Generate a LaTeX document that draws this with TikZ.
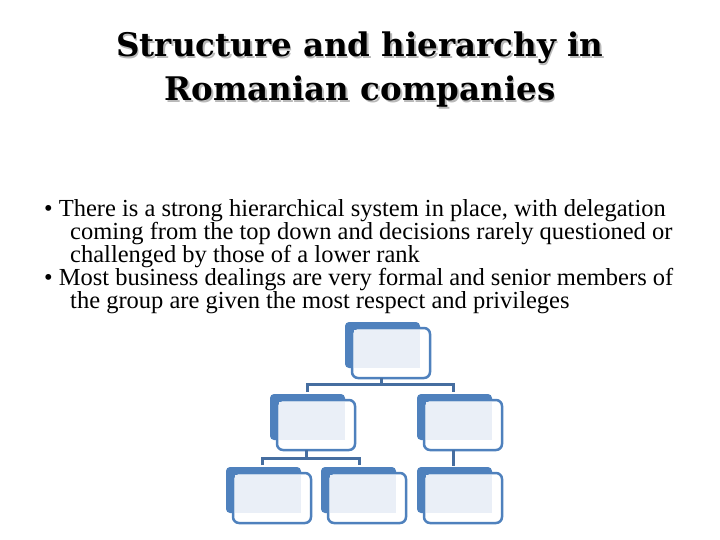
\documentclass[tikz,border=0pt]{standalone}
\usepackage{fontspec}
\setmainfont{Liberation Serif}
\newfontfamily\titlefont{DejaVu Serif}
\definecolor{bk}{RGB}{79,129,189}
\definecolor{ln}{RGB}{70,110,160}
\definecolor{inner}{RGB}{234,239,247}
\begin{document}
\begin{tikzpicture}[x=1pt,y=-1pt,
  back/.style={fill=bk,rounded corners=4pt},
  front/.style={draw=bk,line width=2.5pt,fill=white,rounded corners=6pt},
  conn/.style={draw=ln,line width=3pt},
  title/.style={font=\titlefont\fontsize{32.5}{44}\selectfont\bfseries,align=center},
  body/.style={font=\fontsize{24.5}{23}\selectfont,anchor=north west,inner sep=0}]
\useasboundingbox (0,0) rectangle (720,540);
\node[title,text=gray!55] (ts) at (361.5,72) {Structure and hierarchy in\\Romanian companies};
\node[title,text=black] (t) at (360,70) {Structure and hierarchy in\\Romanian companies};
\node[body] (l1) at (44,199) {\textbullet\ There is a strong hierarchical system in place, with delegation};
\node[body] (l2) at (70,222) {coming from the top down and decisions rarely questioned or};
\node[body] (l3) at (70,245) {challenged by those of a lower rank};
\node[body] (l4) at (44,268) {\textbullet\ Most business dealings are very formal and senior members of};
\node[body] (l5) at (70,291) {the group are given the most respect and privileges};
\foreach \n/\x/\y in {top/345/322, ml/270/394, mr/417/394, bl/226/467, bm/321/467, br/417/467}{
  \fill[back] (\x,\y) rectangle ++(75,46);
  \draw[front] (\x+7,\y+6) rectangle ++(78,50);
  \fill[inner] (\x+9,\y+8) rectangle ++(66,38);
  \coordinate (\n-s) at (\x+36,\y+56);
}
\draw[conn] (top-s) -- (top-s |- 0,384);
\draw[conn] (307,392) -- (307,384) -- (453,384) -- (453,392);
\draw[conn] (ml-s) -- (ml-s |- 0,458);
\draw[conn] (262,465) -- (262,458) -- (359,458) -- (359,465);
\draw[conn] (mr-s) -- (mr-s |- 0,466);
\end{tikzpicture}
\end{document}
